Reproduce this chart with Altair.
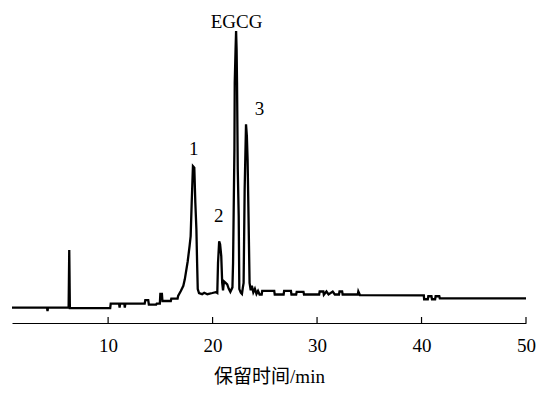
import altair as alt
import pandas as pd

# Chromatogram trace (retention time in min, detector signal in arbitrary units)
time_min = [
    0.8, 4.15, 4.2, 4.25, 6.22, 6.28, 6.34, 10.2, 10.25, 11.05, 11.1, 11.15, 11.55, 11.6, 11.65,
    13.5, 13.56, 13.84, 13.9, 14.6, 14.65, 14.95, 15.0, 15.15, 15.2, 16.0, 16.05, 16.65, 16.7,
    16.96, 17.2, 17.34, 17.62, 17.8, 17.9, 18.0, 18.12, 18.25, 18.35, 18.45, 18.52, 18.58, 18.7,
    19.0, 19.2, 19.5, 19.98, 20.3, 20.45, 20.52, 20.63, 20.72, 20.83, 20.92, 21.0, 21.09, 21.25,
    21.4, 21.55, 21.7, 21.9, 21.96, 22.09, 22.12, 22.2, 22.25, 22.3, 22.34, 22.41, 22.5, 22.56,
    22.7, 22.81, 22.9, 22.97, 23.07, 23.2, 23.28, 23.35, 23.45, 23.54, 23.65, 23.76, 23.9, 24.05,
    24.2, 24.35, 24.5, 24.7, 24.75, 25.9, 25.95, 26.8, 26.85, 27.5, 27.55, 28.0, 28.05, 28.7,
    28.75, 30.2, 30.25, 30.6, 30.65, 30.9, 31.1, 31.5, 31.7, 32.1, 32.15, 32.4, 32.45, 33.9,
    33.95, 34.1, 40.22, 40.25, 40.6, 40.65, 40.95, 41.0, 41.3, 41.35, 41.7, 41.75, 50.0,
]
signal = [
    5.2, 5.2, 4.0, 5.2, 5.2, 24.6, 5.0, 5.0, 6.5, 6.5, 5.2, 6.5, 6.5, 5.2, 6.5,
    6.5, 7.7, 7.7, 6.2, 6.2, 6.5, 6.5, 9.8, 9.8, 7.4, 7.4, 8.2, 8.2, 9.1,
    10.8, 12.5, 14.7, 20.8, 26.0, 29.2, 40.4, 52.8, 52.3, 40.4, 31.6, 20.0, 11.4, 10.1,
    9.7, 10.2, 9.7, 10.1, 10.4, 10.1, 20.2, 27.5, 26.5, 22.5, 13.5, 11.0, 14.0, 13.5,
    13.0, 11.5, 10.5, 12.0, 20.2, 58.6, 80.9, 92.2, 98.3, 92.0, 80.9, 51.8, 36.0, 11.4,
    10.2, 9.8, 12.0, 13.5, 45.1, 66.9, 63.0, 55.2, 33.7, 13.5, 11.0, 12.5, 10.3, 11.5,
    9.8, 10.8, 9.6, 9.6, 10.8, 10.8, 9.6, 9.6, 10.8, 10.8, 9.6, 9.6, 10.5, 10.5,
    9.6, 9.6, 10.6, 10.6, 9.5, 10.6, 9.6, 10.6, 9.6, 9.6, 10.6, 10.6, 9.6, 9.6,
    10.6, 9.4, 9.3, 8.0, 8.0, 9.0, 9.0, 8.0, 8.0, 9.0, 9.0, 8.3, 8.3,
]

# Peak labels
peak_labels = ["EGCG", "1", "2", "3"]
peak_x = [22.3, 18.19, 20.6, 24.5]
peak_y = [101.3, 58.6, 36.0, 72.0]

tick_values = [10, 20, 30, 40, 50]

trace_df = pd.DataFrame({"t": time_min, "s": signal})
label_df = pd.DataFrame({"label": peak_labels, "t": peak_x, "s": peak_y})
tick_df = pd.DataFrame({"t": tick_values})

x_scale = alt.Scale(domain=[0.8, 50], nice=False, zero=False)
y_scale = alt.Scale(domain=[0, 100], nice=False, zero=True)

line = alt.Chart(trace_df).mark_line(color="black", strokeWidth=2.3, interpolate="linear").encode(
    x=alt.X(
        "t:Q",
        scale=x_scale,
        axis=alt.Axis(
            values=tick_values,
            title="保留时间/min",
            ticks=False,
            tickSize=0,
            grid=False,
            domainColor="black",
            domainWidth=1.2,
            labelFont="Liberation Serif",
            labelFontSize=19,
            labelColor="black",
            labelPadding=13,
            labelFlush=False,
            titleFont="Liberation Serif, Noto Sans CJK SC",
            titleFontSize=19,
            titleFontWeight="normal",
            titleColor="black",
            titleBaseline="alphabetic",
            titleY=59,
        ),
    ),
    y=alt.Y("s:Q", scale=y_scale, axis=None),
)

ticks = alt.Chart(tick_df).mark_rule(color="black", strokeWidth=1.2).encode(
    x=alt.X("t:Q", scale=x_scale),
    y=alt.value(291),
    y2=alt.value(297),
)

labels = alt.Chart(label_df).mark_text(
    font="Liberation Serif", fontSize=19, color="black", align="center", baseline="middle"
).encode(
    x=alt.X("t:Q", scale=x_scale),
    y=alt.Y("s:Q", scale=y_scale),
    text="label:N",
)

chart = (
    alt.layer(line, ticks, labels)
    .properties(
        width=514,
        height=297,
        autosize=alt.AutoSizeParams(type="none"),
        padding={"left": 4, "top": 18, "right": 10, "bottom": 64},
        background="white",
    )
    .configure_view(stroke=None)
)

chart.save("out.html", embed_options={"renderer": "svg", "actions": False})
